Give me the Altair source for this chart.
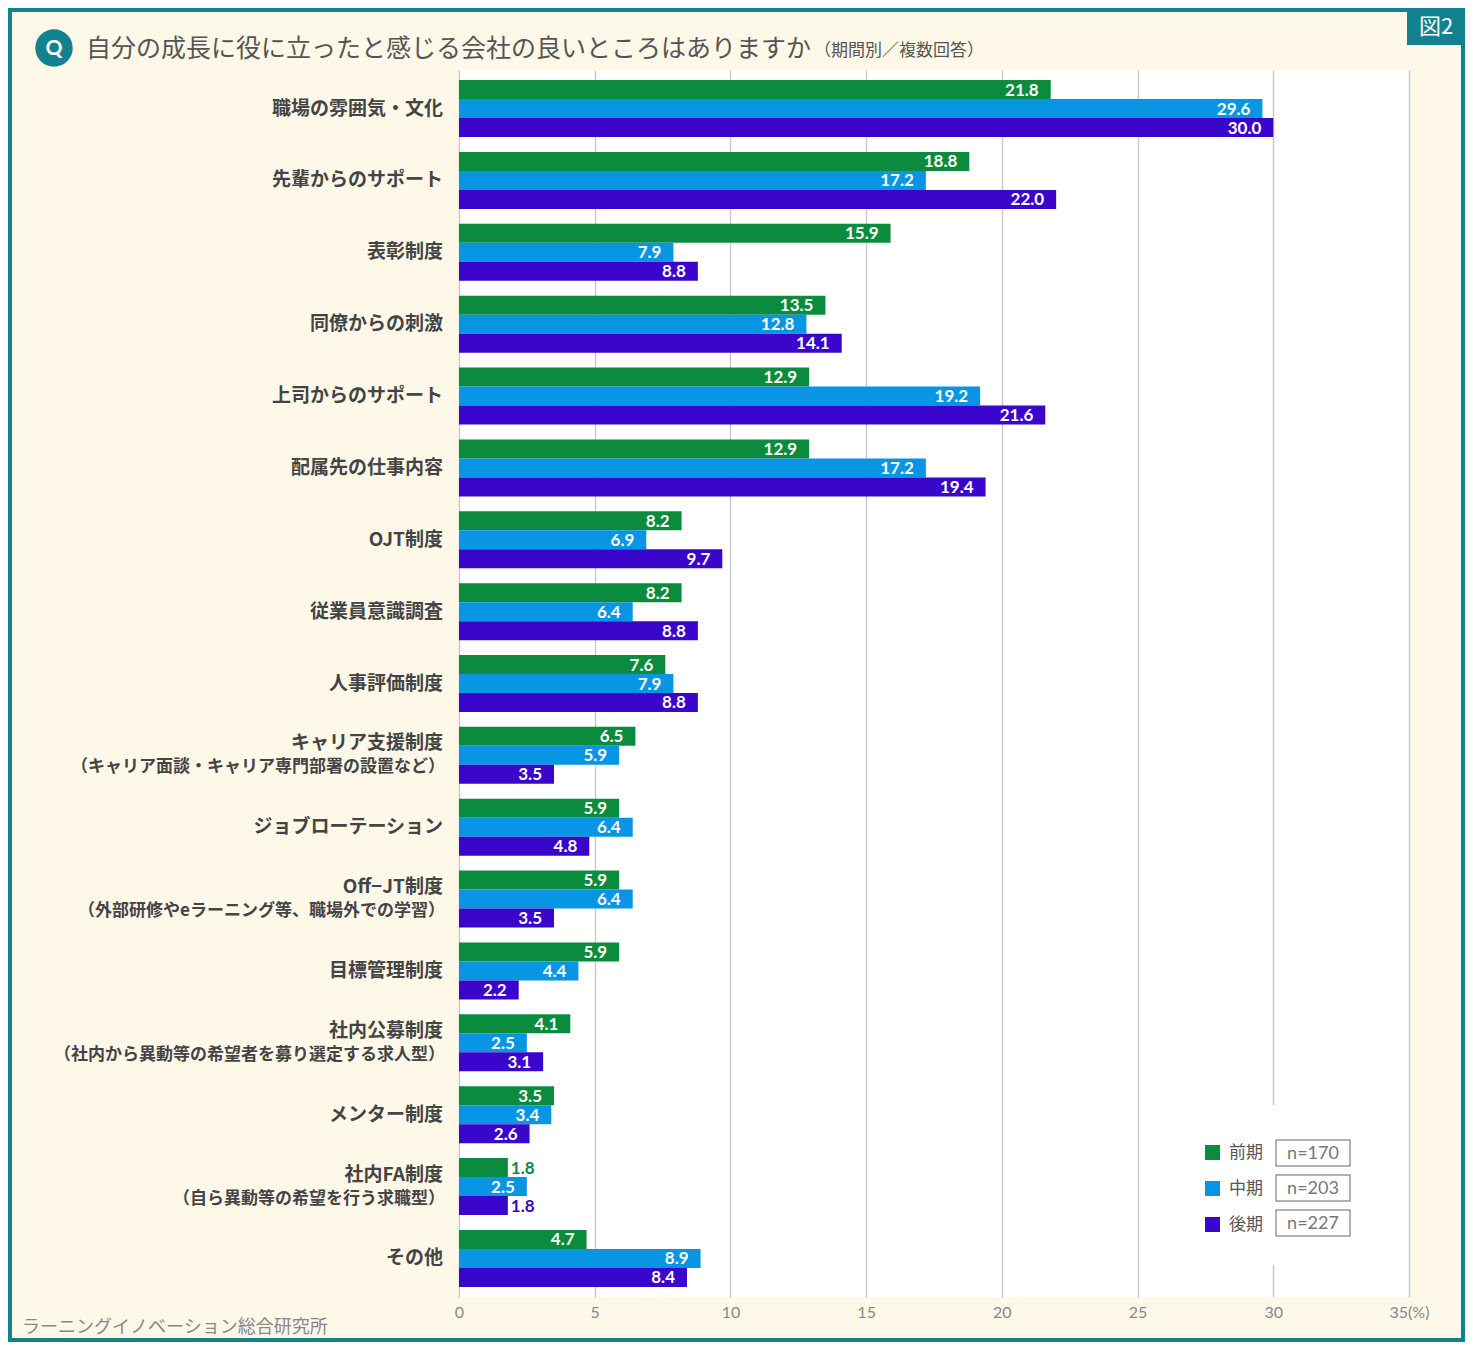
import altair as alt
import pandas as pd

# ---------------- data ----------------
categories = [
    "職場の雰囲気・文化", "先輩からのサポート", "表彰制度", "同僚からの刺激",
    "上司からのサポート", "配属先の仕事内容", "OJT制度", "従業員意識調査",
    "人事評価制度", "キャリア支援制度", "ジョブローテーション", "Off−JT制度",
    "目標管理制度", "社内公募制度", "メンター制度", "社内FA制度", "その他",
]
sublabels = [
    "", "", "", "", "", "", "", "", "",
    "（キャリア面談・キャリア専門部署の設置など）", "",
    "（外部研修やeラーニング等、職場外での学習）", "",
    "（社内から異動等の希望者を募り選定する求人型）", "",
    "（自ら異動等の希望を行う求職型）", "",
]
series = ["前期", "中期", "後期"]
n_sizes = ["n=170", "n=203", "n=227"]
v_early = [21.8, 18.8, 15.9, 13.5, 12.9, 12.9, 8.2, 8.2, 7.6, 6.5, 5.9, 5.9, 5.9, 4.1, 3.5, 1.8, 4.7]
v_mid = [29.6, 17.2, 7.9, 12.8, 19.2, 17.2, 6.9, 6.4, 7.9, 5.9, 6.4, 6.4, 4.4, 2.5, 3.4, 2.5, 8.9]
v_late = [30.0, 22.0, 8.8, 14.1, 21.6, 19.4, 9.7, 8.8, 8.8, 3.5, 4.8, 3.5, 2.2, 3.1, 2.6, 1.8, 8.4]
x_ticks = [0, 5, 10, 15, 20, 25, 30, 35]

title_text = "自分の成長に役に立ったと感じる会社の良いところはありますか"
subtitle_text = "（期間別／複数回答）"
source_text = "ラーニングイノベーション総合研究所"
fig_label = "図2"

# ---------------- styles ----------------
colors = ["#0b8b3e", "#0896e4", "#3b06cb"]
TEAL = "#14828e"
CREAM = "#fdf8e8"
JP = "Noto Sans CJK JP"
NUM = "Lato"

rows = []
for i, c in enumerate(categories):
    for s, vals in zip(series, [v_early, v_mid, v_late]):
        rows.append({"category": c, "series": s, "value": vals[i]})
df = pd.DataFrame(rows)
df["inside"] = df["value"] >= 2
cat_df = pd.DataFrame({"category": categories, "sub": sublabels})
one = pd.DataFrame({"a": [0]})

# layout (chart coordinates -> view coordinates)
PL, PT, W, H, CW, CH = 451, 62, 950, 1227, 1457, 1334
def vx(c):
    return c - PL
def vy(c):
    return c - PT

y_enc = alt.Y("category:N", sort=categories, axis=None,
              scale=alt.Scale(domain=categories, paddingInner=0.207, paddingOuter=0.14))
yoff = alt.YOffset("series:N", sort=series,
                   scale=alt.Scale(domain=series, paddingInner=0, paddingOuter=0))
x_enc = alt.X("value:Q", title=None,
              scale=alt.Scale(domain=[0, 35], nice=False, zero=True),
              axis=alt.Axis(values=x_ticks, grid=True, gridColor="#cacaca", gridWidth=1.5,
                            domain=False, ticks=False, labelPadding=7, labelFlush=False,
                            labelFont=NUM, labelFontSize=16, labelColor="#888888",
                            labelExpr="datum.value == 35 ? '35(%)' : datum.label"))

# white box hiding grid behind legend
legend_bg = alt.Chart(one).mark_rect(color="white").encode(
    x=alt.value(vx(1182)), x2=alt.value(vx(1390)), y=alt.value(vy(1097)), y2=alt.value(vy(1257)))

bars = alt.Chart(df).mark_bar().encode(
    x=x_enc, y=y_enc, yOffset=yoff,
    color=alt.Color("series:N", scale=alt.Scale(domain=series, range=colors),
                    legend=alt.Legend(title=None, orient="none", legendX=vx(1196), legendY=vy(1136),
                                      symbolType="square", symbolSize=225, symbolStrokeWidth=0,
                                      labelFont=JP, labelFontSize=17, labelColor="#555555",
                                      labelOffset=8, rowPadding=18, padding=0)))

txt_in = alt.Chart(df).transform_filter("datum.inside").mark_text(
    align="right", baseline="middle", dx=-12, dy=1, color="white",
    font=NUM, fontWeight="bold", fontSize=17).encode(
    x="value:Q", y=y_enc, yOffset=yoff, text=alt.Text("value:Q", format=".1f"))

txt_out = alt.Chart(df).transform_filter("!datum.inside").mark_text(
    align="left", baseline="middle", dx=3, dy=1,
    font=NUM, fontWeight="bold", fontSize=17).encode(
    x="value:Q", y=y_enc, yOffset=yoff, text=alt.Text("value:Q", format=".1f"),
    color=alt.Color("series:N", scale=alt.Scale(domain=series, range=colors), legend=None))

lab_single = alt.Chart(cat_df).transform_filter("datum.sub == ''").mark_text(
    align="right", baseline="middle", font=JP, fontSize=19, fontWeight="bold", color="#444444").encode(
    x=alt.value(-16), y=y_enc, text="category:N")
lab_main = alt.Chart(cat_df).transform_filter("datum.sub != ''").mark_text(
    align="right", baseline="middle", dy=-12, font=JP, fontSize=19, fontWeight="bold", color="#444444").encode(
    x=alt.value(-16), y=y_enc, text="category:N")
lab_sub = alt.Chart(cat_df).transform_filter("datum.sub != ''").mark_text(
    align="right", baseline="middle", dy=12, font=JP, fontSize=17, fontWeight="bold", color="#444444").encode(
    x=alt.value(-14), y=y_enc, text="sub:N")

# n boxes in legend
nlayers = []
for i, n in enumerate(n_sizes):
    top = 1132 + 35 * i
    nlayers.append(alt.Chart(one).mark_rect(fillOpacity=0, stroke="#999999", strokeWidth=1.5).encode(
        x=alt.value(vx(1268)), x2=alt.value(vx(1342)), y=alt.value(vy(top)), y2=alt.value(vy(top + 26))))
    nlayers.append(alt.Chart(one).mark_text(font=NUM, fontSize=18, color="#777777", baseline="middle").encode(
        x=alt.value(vx(1305)), y=alt.value(vy(top + 14)), text=alt.value(n)))

# title
qcircle = alt.Chart(one).mark_circle(color=TEAL, opacity=1, size=1400).encode(
    x=alt.value(vx(46)), y=alt.value(vy(40)))
qtext = alt.Chart(one).mark_text(font=NUM, fontWeight="bold", fontSize=21, color="white", baseline="middle").encode(
    x=alt.value(vx(46)), y=alt.value(vy(41)), text=alt.value("Q"))
title = alt.Chart(one).mark_text(font=JP, fontSize=25, color="#555555", align="left", baseline="middle").encode(
    x=alt.value(vx(78)), y=alt.value(vy(41)), text=alt.value(title_text))
subtitle = alt.Chart(one).mark_text(font=JP, fontSize=17, color="#555555", align="left", baseline="middle").encode(
    x=alt.value(vx(806)), y=alt.value(vy(43)), text=alt.value(subtitle_text))

figbox = alt.Chart(one).mark_rect(color=TEAL).encode(
    x=alt.value(vx(1399)), x2=alt.value(vx(1457)), y=alt.value(vy(0)), y2=alt.value(vy(37)))
figtext = alt.Chart(one).mark_text(font=JP, fontSize=22, color="white", baseline="middle").encode(
    x=alt.value(vx(1428)), y=alt.value(vy(19)), text=alt.value(fig_label))

source = alt.Chart(one).mark_text(font=JP, fontSize=18, color="#888888", align="left", baseline="middle").encode(
    x=alt.value(vx(14)), y=alt.value(vy(1320)), text=alt.value(source_text))

border = alt.Chart(one).mark_rect(fillOpacity=0, stroke=TEAL, strokeWidth=4).encode(
    x=alt.value(vx(2)), x2=alt.value(vx(CW - 2)), y=alt.value(vy(2)), y2=alt.value(vy(CH - 2)))

chart = alt.layer(
    legend_bg, bars, txt_in, txt_out, lab_single, lab_main, lab_sub, *nlayers,
    qcircle, qtext, title, subtitle, figbox, figtext, source, border
).resolve_scale(color="independent").properties(
    width=W, height=H,
    padding={"left": PL, "top": PT, "right": CW - PL - W, "bottom": CH - PT - H},
    autosize=alt.AutoSizeParams(type="none"),
    background=CREAM,
).configure_view(fill="white", strokeWidth=0)

chart.save("out.html", embed_options={"renderer": "svg", "actions": False})
